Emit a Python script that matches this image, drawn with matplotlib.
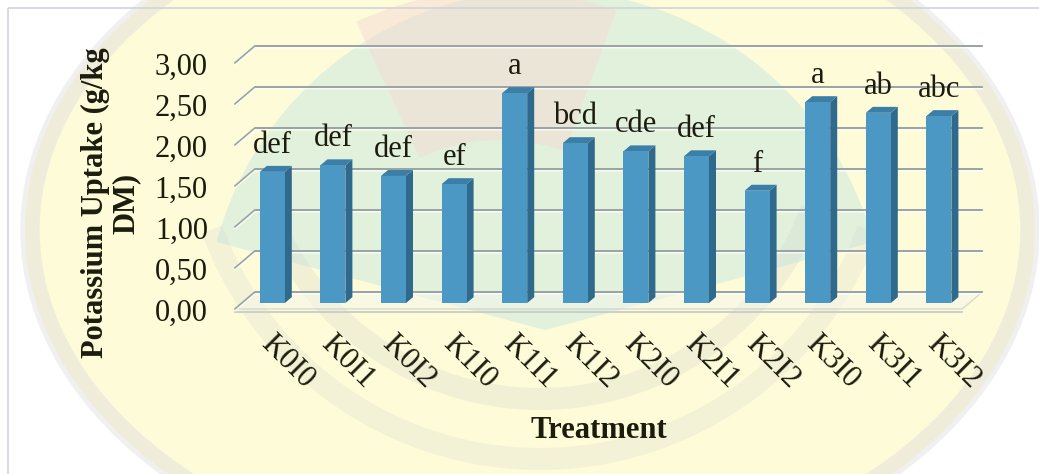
import matplotlib.pyplot as plt
from matplotlib.patches import Polygon, Rectangle, Ellipse, Wedge
import numpy as np

treatments = ['K0I0', 'K0I1', 'K0I2', 'K1I0', 'K1I1', 'K1I2',
              'K2I0', 'K2I1', 'K2I2', 'K3I0', 'K3I1', 'K3I2']
uptake = [1.60, 1.68, 1.55, 1.45, 2.56, 1.95, 1.85, 1.79, 1.37, 2.45, 2.32, 2.28]
letters = ['def', 'def', 'def', 'ef', 'a', 'bcd', 'cde', 'def', 'f', 'a', 'ab', 'abc']
y_ticks = [0.0, 0.5, 1.0, 1.5, 2.0, 2.5, 3.0]
y_tick_labels = ['0,00', '0,50', '1,00', '1,50', '2,00', '2,50', '3,00']

W, H = 1039, 474
plt.rcParams['font.family'] = ['Liberation Serif', 'DejaVu Serif']
TXT = '#1c1c0e'
FS = 22

fig = plt.figure(figsize=(W / 100, H / 100), dpi=100)
fig.patch.set_facecolor('white')

# background layer in pixel coordinates (origin top-left, so upper half is 180..360 deg)
bg = fig.add_axes([0, 0, 1, 1])
bg.set_xlim(0, W)
bg.set_ylim(H, 0)
bg.axis('off')
bg.add_patch(Ellipse((530, 230), 1010, 700, facecolor='#fdfbd8', edgecolor='none', zorder=0))
bg.add_patch(Ellipse((530, 230), 1000, 690, facecolor='none', edgecolor='#dedede',
                     lw=14, alpha=0.45, zorder=1))
bg.add_patch(Wedge((545, 330), 340, 195, 345, facecolor='#d3ecdf', edgecolor='none',
                   alpha=0.65, zorder=1))
bg.add_patch(Wedge((500, 330), 340, 245, 290, width=150, facecolor='#f4dcd6',
                   edgecolor='none', alpha=0.55, zorder=1))
for r, a in [(300, 0.25), (360, 0.2)]:
    bg.add_patch(Wedge((540, 110), r, 20, 160, width=22, facecolor='#d0d0d0',
                       edgecolor='none', alpha=a, zorder=1))
bg.add_patch(Rectangle((8, 8), W - 4, H, facecolor='none', edgecolor='#d0d4dc', lw=1.2, zorder=2))

# chart layer: x in category slots, y in uptake units
ax = fig.add_axes([0, 0, 1, 1])
ax.patch.set_alpha(0)
ax.axis('off')
px = 1 / 60.6
py = 1 / 82
x_left_px, y_zero_px = 235, 309
ax.set_xlim(-0.5 - x_left_px * px, -0.5 + (W - x_left_px) * px)
ax.set_ylim(-(H - y_zero_px) * py, y_zero_px * py)

n = len(treatments)
dx, dy = 20 * px, 17 * py          # depth of the 3D box
grid_col = '#9aa3a3'

# floor
ax.add_patch(Polygon([(-0.5, 0), (n - 0.5, 0), (n - 0.5 + dx, dy), (-0.5 + dx, dy)],
                     facecolor='#f6f6ee', edgecolor='#b8bcbc', lw=1, alpha=0.5, zorder=2))
ax.plot([-0.5, n - 0.5], [-3 * py, -3 * py], color='#c4c8c8', lw=1.2, zorder=2)

# gridlines on the back and side walls
for v in y_ticks:
    ax.plot([-0.5, -0.5 + dx, n - 0.5 + dx], [v, v + dy, v + dy],
            color=grid_col, lw=1.4, solid_capstyle='round', zorder=3)
    ax.plot([-0.5, -0.5 + dx, n - 0.5 + dx], [v - 1.8 * py, v + dy - 1.8 * py, v + dy - 1.8 * py],
            color='white', lw=1, alpha=0.8, zorder=3)

# 3D bars
hw = 12.5 * px
f0, f1 = 0.35, 0.70
for i, v in enumerate(uptake):
    xl, xr = i - hw + f0 * dx, i + hw + f0 * dx
    y0 = f0 * dy
    ox, oy = (f1 - f0) * dx, (f1 - f0) * dy
    ax.add_patch(Polygon([(xr, y0), (xr + ox, y0 + oy), (xr + ox, y0 + oy + v), (xr, y0 + v)],
                         facecolor='#2f6a8c', edgecolor='none', zorder=5))
    ax.add_patch(Polygon([(xl, y0 + v), (xr, y0 + v), (xr + ox, y0 + v + oy), (xl + ox, y0 + v + oy)],
                         facecolor='#3b7ea6', edgecolor='none', zorder=5))
    ax.add_patch(Rectangle((xl, y0), xr - xl, v, facecolor='#4b98c5', edgecolor='none', zorder=5))
    ax.text((xl + xr) / 2, y0 + v + 19 * py, letters[i], ha='center', va='baseline',
            fontsize=FS, color=TXT, zorder=6)
    ax.text(i, -31 * py, treatments[i], rotation=-45, rotation_mode='anchor',
            ha='left', va='center', fontsize=FS, color=TXT, zorder=6)

for v, lab in zip(y_ticks, y_tick_labels):
    ax.text(-0.5 - 27 * px, v - 12 * py, lab, ha='right', va='baseline',
            fontsize=FS, color=TXT)

ax.text(-0.5 - 124 * px, 106 * py, 'Potassium Uptake (g/kg\nDM)', rotation=90,
        ha='center', va='center', multialignment='center', fontsize=FS,
        fontweight='bold', color=TXT, linespacing=1.1)
ax.text((n - 1) / 2, -129 * py, 'Treatment', ha='center', va='baseline',
        fontsize=FS, fontweight='bold', color=TXT)

fig.savefig('out.png', dpi=100)
